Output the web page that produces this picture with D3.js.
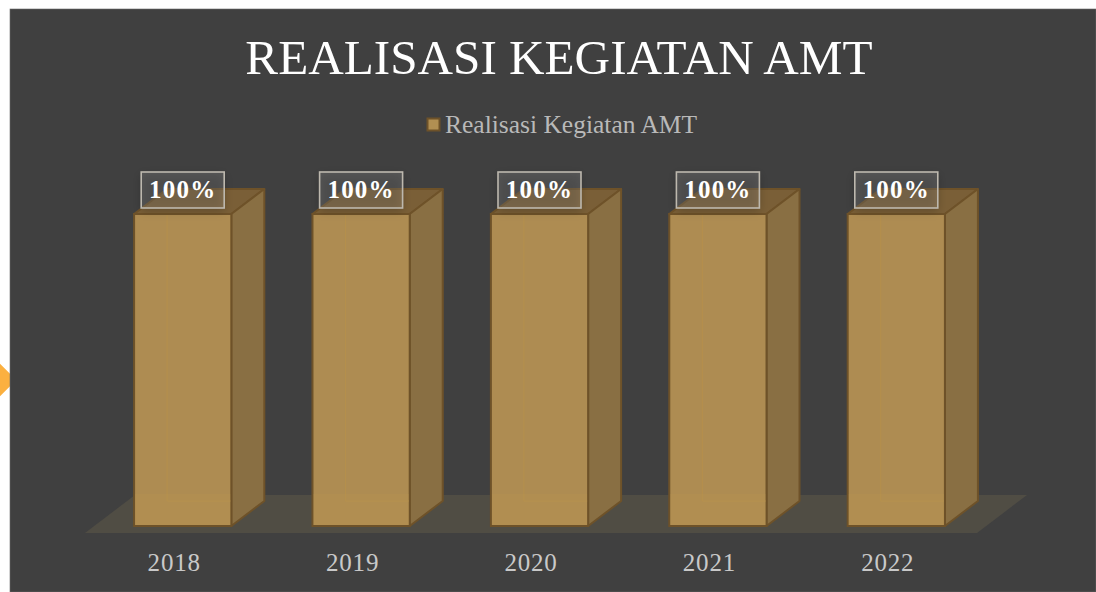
<!DOCTYPE html>
<html><head><meta charset="utf-8">
<script src="https://cdn.jsdelivr.net/npm/d3@7"></script>
<style>html,body{margin:0;padding:0;background:#fff;overflow:hidden}svg{display:block}
text{font-family:"Liberation Serif",serif}</style></head><body><div id="c"></div>
<script>
const categories=["2018","2019","2020","2021","2022"];
const values=[1,1,1,1,1];
const seriesName="Realisasi Kegiatan AMT";
const titleText="REALISASI KEGIATAN AMT";
const W=1096,H=592;
const svg=d3.select("#c").append("svg").attr("width",W).attr("height",H);
const defs=svg.append("defs");
defs.append("filter").attr("id","sh").attr("x","-30%").attr("y","-30%").attr("width","160%").attr("height","160%")
  .append("feGaussianBlur").attr("stdDeviation",5);
// decoration and panel
svg.append("path").attr("d",d3.symbol(d3.symbolSquare,1600)()).attr("transform","translate(-12,380) rotate(45)").attr("fill","#fbb040");
svg.append("rect").attr("x",10).attr("y",9).attr("width",W-10).attr("height",H-9).attr("fill","#404040").attr("stroke","#6a6a6a").attr("stroke-width",.6);

const x=d3.scaleBand().domain(categories).range([85,977]).paddingInner(0.455).paddingOuter(0.2275);
const y=d3.scaleLinear().domain([0,1]).range([526,214]);
const dx=33,dy=-25,shift=8.5;
// floor
const floorY=y(0)+7;
svg.append("path").attr("d",d3.line()([[85,floorY],[977,floorY],[977+50,floorY-38],[85+50,floorY-38]])+"Z").attr("fill","#504d44");

const g=svg.selectAll("g.bar").data(categories.map((c,i)=>({c,v:values[i]}))).join("g").attr("class","bar");
const poly=p=>d3.line()(p)+"Z";
const edge="#6e5229";
g.each(function(d){
  const s=d3.select(this),l=x(d.c)+shift,r=l+x.bandwidth(),t=y(d.v),b=y(0);
  // back faces, visible through the box
  s.append("path").attr("d",poly([[l+dx,t+dy],[r+dx,t+dy],[r+dx,b+dy],[l+dx,b+dy]])).attr("fill","#5e5036").attr("fill-opacity",.55).attr("stroke",edge).attr("stroke-width",1);
  // top
  s.append("path").attr("d",poly([[l,t],[r,t],[r+dx,t+dy],[l+dx,t+dy]])).attr("fill","#7a5f37").attr("stroke",edge).attr("stroke-width",2).attr("stroke-linejoin","round");
  // side
  s.append("path").attr("d",poly([[r,t],[r+dx,t+dy],[r+dx,b+dy],[r,b]])).attr("fill","#896f43").attr("stroke",edge).attr("stroke-width",2).attr("stroke-linejoin","round");
  // front
  s.append("rect").attr("x",l).attr("y",t).attr("width",r-l).attr("height",b-t).attr("fill","#ae8c52").attr("stroke",edge).attr("stroke-width",2);
  // inner back edge seen through the front face
  s.append("path").attr("d",`M${l+dx},${t+1}V${b+dy}H${r-1}`).attr("fill","none").attr("stroke","#b58f4c").attr("stroke-width",1);
  s.append("rect").attr("x",l+1).attr("y",b-32).attr("width",r-l-2).attr("height",31).attr("fill","#b8944f").attr("fill-opacity",.3);
  // data label
  const cx=(l+r)/2,cy=t-24,bw=83,bh=36;
  s.append("rect").attr("x",cx-bw/2).attr("y",cy-bh/2+3).attr("width",bw).attr("height",bh).attr("fill","#000").attr("fill-opacity",.22).attr("filter","url(#sh)");
  s.append("rect").attr("x",cx-bw/2).attr("y",cy-bh/2).attr("width",bw).attr("height",bh).attr("fill","#fff").attr("fill-opacity",.13).attr("stroke","#bdb8ae").attr("stroke-width",1.6);
  s.append("text").attr("x",cx).attr("y",cy+8).attr("text-anchor","middle").attr("fill","#fff").attr("font-weight","700").attr("font-size",25).attr("letter-spacing",1.2).text(d3.format(".0%")(d.v));
});
// axis
const axis=svg.append("g").attr("transform",`translate(0,${floorY})`).call(d3.axisBottom(x).tickSize(0).tickPadding(20));
axis.select(".domain").remove();
axis.selectAll("text").attr("font-size",25).attr("fill","#c9c9c9").attr("font-family","Liberation Serif").attr("letter-spacing",.8).attr("dy","0.71em");
// title
svg.append("text").attr("x",559).attr("y",74).attr("text-anchor","middle").attr("fill","#fff").attr("font-size",49.2).text(titleText);
// legend
svg.append("rect").attr("x",427.5).attr("y",118.5).attr("width",12).attr("height",12).attr("fill","#b18f52").attr("stroke",edge).attr("stroke-width",2);
svg.append("text").attr("x",445).attr("y",133).attr("fill","#b9b9b9").attr("font-size",25.5).text(seriesName);
</script></body></html>
